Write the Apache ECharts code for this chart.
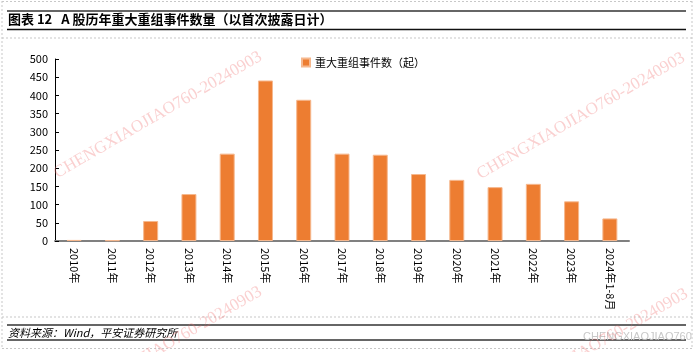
<!DOCTYPE html>
<html><head><meta charset="utf-8">
<script src="https://cdn.jsdelivr.net/npm/echarts@6/dist/echarts.min.js"></script>
<style>html,body{margin:0;padding:0;background:#fff}#c{width:700px;height:352px}</style>
</head><body><div id="c"></div>
<script>
var categories = ['2010年','2011年','2012年','2013年','2014年','2015年','2016年','2017年','2018年','2019年','2020年','2021年','2022年','2023年','2024年1-8月'];
var seriesName = '重大重组事件数（起）';
var values = [3, 2, 55, 129, 240, 441, 388, 240, 237, 184, 168, 148, 157, 109, 62];
var titleText = '图表 12   A 股历年重大重组事件数量（以首次披露日计）';
var sourceText = '资料来源：Wind，平安证券研究所';
var watermark = 'CHENGXIAOJIAO760-20240903';

var chart = echarts.init(document.getElementById('c'), null, {renderer:'canvas'});
var font = '"Noto Sans CJK SC","Noto Sans",sans-serif';
function hline(y, x1, x2, color, w, dash){
  return {type:'line', shape:{x1:x1,y1:y,x2:x2,y2:y}, style:{stroke:color, lineWidth:w, lineDash:dash||null}, silent:true};
}
function vline(x, y1, y2, color, w, dash){
  return {type:'line', shape:{x1:x,y1:y1,x2:x,y2:y2}, style:{stroke:color, lineWidth:w, lineDash:dash||null}, silent:true};
}
function wm(cx, cy){
  return {type:'text', x:cx, y:cy, rotation:Math.PI/6, z:100, silent:true,
    style:{text:watermark, fill:'rgba(240,110,110,0.32)', font:'17px "Liberation Serif", serif', align:'center', verticalAlign:'middle'}};
}
chart.setOption({
  animation:false,
  textStyle:{fontFamily:font},
  grid:{left:55, right:71, top:59, bottom:111},
  legend:{left:296, top:52, itemWidth:8, itemHeight:8, icon:'rect',
    textStyle:{fontSize:11, color:'#000', fontFamily:font}, data:[seriesName]},
  xAxis:{type:'category', data:categories,
    axisLine:{lineStyle:{color:'#808080', width:2}},
    axisTick:{inside:true, length:4, lineStyle:{color:'#000'}},
    axisLabel:{rotate:-90, fontSize:11, color:'#000', margin:7, interval:0, fontFamily:font}},
  yAxis:{type:'value', min:0, max:500, interval:50,
    axisLine:{show:true, lineStyle:{color:'#000', width:1}},
    axisTick:{show:true, inside:true, length:4, lineStyle:{color:'#000'}},
    splitLine:{show:false},
    axisLabel:{fontSize:11, color:'#000', margin:7, fontFamily:font}},
  series:[{name:seriesName, type:'bar', data:values, barWidth:15,
    itemStyle:{color:'#ED7D31', borderColor:'#F6B88E', borderWidth:1}}],
  graphic:[
    vline(2, 1, 349, '#c8c8c8', 1, [2,2]),
    vline(692, 1, 349, '#c8c8c8', 1, [2,2]),
    hline(1.5, 2, 692, '#c8c8c8', 1, [2,2]),
    hline(38, 2, 692, '#c8c8c8', 1, [2,2]),
    hline(317, 2, 692, '#c8c8c8', 1, [2,2]),
    hline(348.5, 2, 692, '#c8c8c8', 1, [2,2]),
    hline(11, 7, 686, '#666', 2),
    hline(29.5, 7, 686, '#111', 1.5),
    hline(325, 7, 686, '#666', 2),
    hline(340, 7, 686, '#666', 2),
    {type:'text', x:8, y:19, silent:true, style:{text:titleText, fill:'#000', font:'bold 13px '+font, verticalAlign:'middle'}},
    {type:'text', x:8, y:333, silent:true, style:{text:sourceText, fill:'#000', font:'italic 11px '+font, verticalAlign:'middle'}},
    {type:'text', x:583, y:337, silent:true, style:{text:'CHENGXIAOJIAO760', fill:'#c8c8c8', font:'11px "Liberation Sans", sans-serif', verticalAlign:'middle'}},
    wm(158, 115), wm(581, 116), wm(158, 350), wm(584, 352)
  ]
});
</script></body></html>
